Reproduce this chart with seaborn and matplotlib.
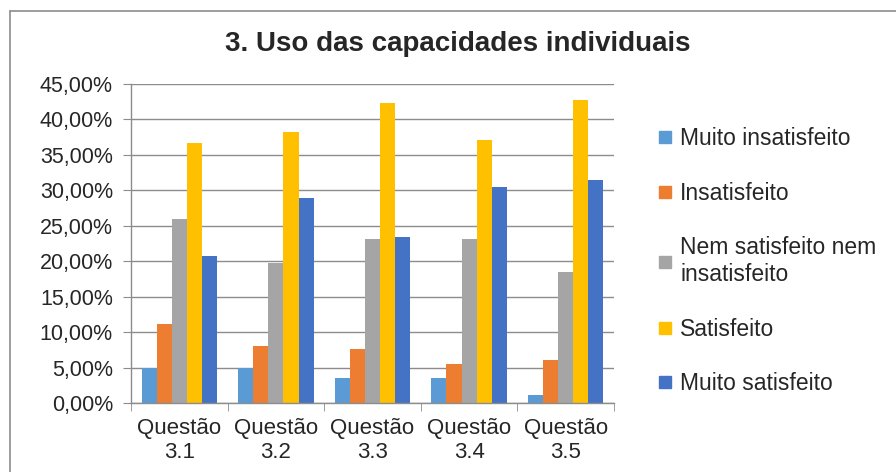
import pandas as pd
import matplotlib.pyplot as plt
from matplotlib.lines import Line2D
from matplotlib.ticker import FuncFormatter, FixedLocator
import seaborn as sns

# Data (fractions)
questoes = ["Questão\n3.1", "Questão\n3.2", "Questão\n3.3", "Questão\n3.4", "Questão\n3.5"]
respostas = ["Muito insatisfeito", "Insatisfeito", "Nem satisfeito nem\ninsatisfeito",
             "Satisfeito", "Muito satisfeito"]
muito_insatisfeito = [0.0500, 0.0500, 0.0354, 0.0354, 0.0109]
insatisfeito = [0.1117, 0.0810, 0.0755, 0.0547, 0.0603]
nem_nem = [0.2590, 0.1974, 0.2309, 0.2309, 0.1843]
satisfeito = [0.3666, 0.3816, 0.4226, 0.3713, 0.4273]
muito_satisfeito = [0.2078, 0.2888, 0.2342, 0.3048, 0.3152]
cores = ["#5B9BD5", "#ED7D31", "#A5A5A5", "#FFC000", "#4472C4"]

series = [muito_insatisfeito, insatisfeito, nem_nem, satisfeito, muito_satisfeito]
rows = []
for resp, vals in zip(respostas, series):
    for q, v in zip(questoes, vals):
        rows.append({"questao": q, "resposta": resp, "valor": v})
df = pd.DataFrame(rows)

sns.set_style("white")
plt.rcParams['font.family'] = ['Liberation Sans', 'DejaVu Sans']

fig = plt.figure(figsize=(8.96, 4.72), dpi=100)
ax = fig.add_axes([131 / 896, 1 - 403 / 472, (614 - 131) / 896, (403 - 84) / 472])

sns.barplot(data=df, x="questao", y="valor", hue="resposta", order=questoes,
            hue_order=respostas, palette=cores, width=0.78, gap=0,
            linewidth=0, saturation=1, ax=ax, legend=False)

ax.set_ylim(0, 0.45)
ax.set_xlim(-0.5, 4.5)
ax.set_yticks([i * 0.05 for i in range(10)])
ax.yaxis.set_major_formatter(FuncFormatter(lambda v, p: f"{v * 100:.2f}%".replace(".", ",")))
ax.yaxis.grid(True, color="#8C8C8C", linewidth=1)
ax.set_axisbelow(True)
ax.set_xlabel("")
ax.set_ylabel("")

for s in ["top", "right"]:
    ax.spines[s].set_visible(False)
for s in ["left", "bottom"]:
    ax.spines[s].set_color("#8C8C8C")
    ax.spines[s].set_linewidth(1)

ax.tick_params(axis="y", which="major", length=6, color="#8C8C8C", left=True,
               labelsize=15.5, pad=7)
ax.tick_params(axis="x", which="major", length=0, labelsize=16, pad=11)
ax.xaxis.set_minor_locator(FixedLocator([-0.5, 0.5, 1.5, 2.5, 3.5, 4.5]))
ax.tick_params(axis="x", which="minor", length=6, color="#8C8C8C", bottom=True)
for lbl in ax.get_xticklabels():
    lbl.set_linespacing(1.2)

# Legend
handles = [Line2D([0], [0], marker="s", lw=0, markersize=8, color=c) for c in cores]
fig.legend(handles, respostas, loc="upper left", bbox_to_anchor=(647 / 896, 1 - 118 / 472),
           frameon=False, fontsize=16.5, handlelength=0.8, handletextpad=0.25,
           labelspacing=1.38, borderaxespad=0)

# Title
fig.text(458 / 896, 1 - 44 / 472, "3. Uso das capacidades individuais",
         ha="center", va="center", fontsize=20, fontweight="bold")

# Chart frame (left and top edges visible)
fig.add_artist(Line2D([10 / 896, 10 / 896], [0, 1 - 11 / 472], transform=fig.transFigure,
                      color="#8C8C8C", lw=1.2))
fig.add_artist(Line2D([10 / 896, 1], [1 - 11 / 472, 1 - 11 / 472], transform=fig.transFigure,
                      color="#8C8C8C", lw=1.2))

fig.savefig("out.png", dpi=100, facecolor="white")
